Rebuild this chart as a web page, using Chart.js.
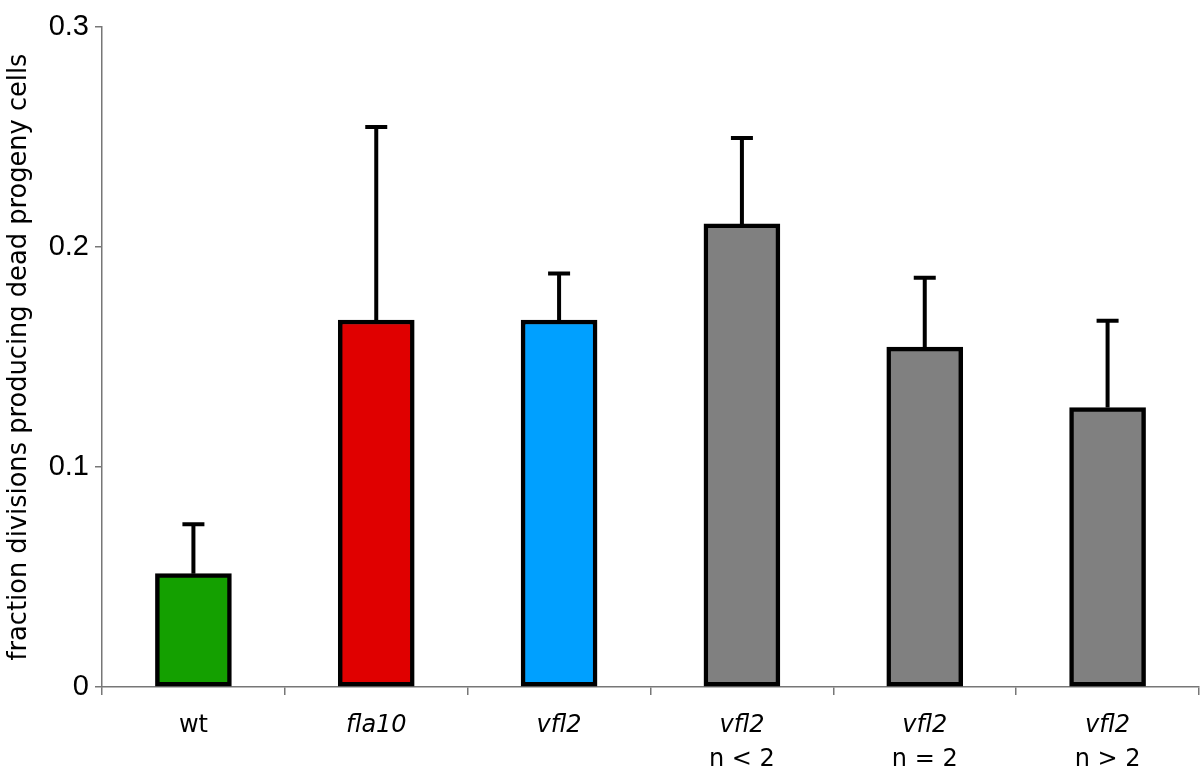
<!DOCTYPE html>
<html>
<head>
<meta charset="utf-8">
<script src="https://cdn.jsdelivr.net/npm/chart.js@4"></script>
<style>
  html, body { margin: 0; padding: 0; background: #fff; }
</style>
</head>
<body>
<canvas id="myChart" width="1200" height="775"></canvas>
<script>
// values
const strains = ["wt", "fla10", "vfl2", "vfl2", "vfl2", "vfl2"];
const subLabels = ["", "", "", "n < 2", "n = 2", "n > 2"];
const fractions = [0.0515, 0.1668, 0.1668, 0.2105, 0.1545, 0.127];
const errTops = [0.074, 0.2545, 0.188, 0.2495, 0.186, 0.1665];
const barColors = ["#14a000", "#e00000", "#00a0ff", "#808080", "#808080", "#808080"];

const axisColor = "#777";
const labelFont = "'DejaVu Sans'";

// error bars + second line of the x labels
const extras = {
  id: "extras",
  afterDatasetsDraw(chart) {
    const ctx = chart.ctx;
    const x = chart.scales.x, y = chart.scales.y;
    ctx.save();
    ctx.strokeStyle = "#000";
    ctx.lineWidth = 4;
    fractions.forEach((v, i) => {
      const px = x.getPixelForValue(i);
      const top = y.getPixelForValue(errTops[i]);
      const base = y.getPixelForValue(v);
      ctx.beginPath();
      ctx.moveTo(px, base);
      ctx.lineTo(px, top);
      ctx.moveTo(px - 11, top);
      ctx.lineTo(px + 11, top);
      ctx.stroke();
    });
    ctx.restore();
  },
  afterDraw(chart) {
    const ctx = chart.ctx;
    const x = chart.scales.x;
    ctx.save();
    ctx.fillStyle = "#000";
    ctx.font = "24px " + labelFont;
    ctx.textAlign = "center";
    ctx.textBaseline = "middle";
    subLabels.forEach((s, i) => {
      if (s) ctx.fillText(s, x.getPixelForValue(i), 760);
    });
    ctx.restore();
  }
};

new Chart(document.getElementById("myChart").getContext("2d"), {
  type: "bar",
  data: {
    labels: strains,
    datasets: [{
      data: fractions,
      backgroundColor: barColors,
      borderColor: "#000",
      borderWidth: 4.5,
      borderSkipped: false,
      barThickness: 76
    }]
  },
  options: {
    responsive: false,
    animation: false,
    events: [],
    layout: { padding: { top: 27, right: 1, left: 0, bottom: 0 } },
    plugins: {
      legend: { display: false },
      tooltip: { enabled: false }
    },
    scales: {
      x: {
        afterFit: (s) => { s.height = 88; },
        border: { color: axisColor, width: 1.5 },
        grid: { offset: true, drawOnChartArea: false, tickLength: 8, color: axisColor, lineWidth: 1.5 },
        ticks: {
          color: "#000",
          padding: 16,
          font: (c) => ({ family: labelFont, size: 24, style: c.index === 0 ? "normal" : "italic" })
        }
      },
      y: {
        min: 0,
        max: 0.3,
        afterFit: (s) => { s.width = 102; },
        border: { color: axisColor, width: 1.5 },
        grid: { drawOnChartArea: false, tickLength: 7, color: axisColor, lineWidth: 1.5 },
        ticks: {
          stepSize: 0.1,
          color: "#000",
          padding: 6,
          font: { family: "'Liberation Sans'", size: 29 }
        },
        title: {
          display: true,
          text: "fraction divisions producing dead progeny cells",
          color: "#000",
          padding: 4,
          font: { family: labelFont, size: 25.7 }
        }
      }
    }
  },
  plugins: [extras]
});
</script>
</body>
</html>
